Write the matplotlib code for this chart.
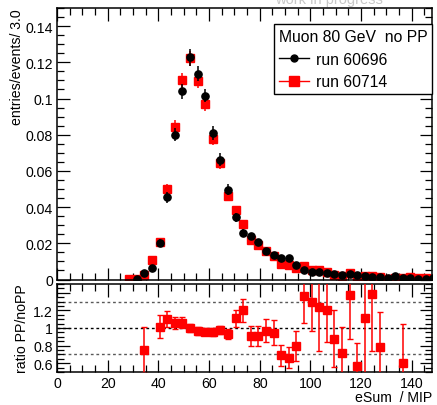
import numpy as np
import matplotlib
matplotlib.use("Agg")
import matplotlib.pyplot as plt
from matplotlib.lines import Line2D
from matplotlib.ticker import MultipleLocator, FixedLocator, FuncFormatter

plt.rcParams["font.family"] = ["Liberation Sans", "DejaVu Sans"]

# eSum bins (width 3 MIP), bin centres
BIN_CENTERS = [28.5, 31.5, 34.5, 37.5, 40.5, 43.5, 46.5, 49.5, 52.5, 55.5,
               58.5, 61.5, 64.5, 67.5, 70.5, 73.5, 76.5, 79.5, 82.5, 85.5,
               88.5, 91.5, 94.5, 97.5, 100.5, 103.5, 106.5, 109.5, 112.5, 115.5,
               118.5, 121.5, 124.5, 127.5, 130.5, 133.5, 136.5, 139.5, 142.5, 145.5,
               148.5]

# run 60696 (no PP), normalised entries per bin
RUN_NOPP = [np.nan, 0.0003, 0.0034, 0.0065, 0.0204, 0.0455, 0.0801, 0.1039, 0.1227, 0.1138,
            0.1015, 0.0810, 0.0661, 0.0497, 0.0344, 0.0255, 0.0239, 0.0206, 0.0159, 0.0137,
            0.0121, 0.0117, 0.0082, 0.0054, 0.0042, 0.0043, 0.0034, 0.0030, 0.0027, 0.0028,
            0.0023, 0.0019, 0.0014, 0.0015, 0.0010, 0.0017, 0.0010, 0.0008, 0.0004, 0.0003,
            0.0006]
RUN_NOPP_ERR = [0.0, 0.0003, 0.0009, 0.0014, 0.0022, 0.0030, 0.0038, 0.0040, 0.0045, 0.0040,
                0.0037, 0.0038, 0.0036, 0.0030, 0.0025, 0.0022, 0.0020, 0.0019, 0.0017, 0.0016,
                0.0015, 0.0015, 0.0012, 0.0010, 0.0009, 0.0009, 0.0008, 0.0008, 0.0007, 0.0007,
                0.0007, 0.0006, 0.0005, 0.0005, 0.0004, 0.0005, 0.0004, 0.0004, 0.0003, 0.0003,
                0.0004]

# run 60714 (PP)
RUN_PP = [0.0004, 0.0003, 0.0025, 0.0106, 0.0208, 0.0500, 0.0843, 0.1103, 0.1222, 0.1098,
          0.0969, 0.0777, 0.0646, 0.0463, 0.0382, 0.0305, 0.0218, 0.0188, 0.0155, 0.0130,
          0.0084, 0.0078, 0.0066, 0.0073, 0.0054, 0.0053, 0.0041, 0.0026, 0.0019, 0.0038,
          0.0013, 0.0021, 0.0019, 0.0012, 0.0004, 0.0006, 0.0006, 0.0014, 0.0009, 0.0006,
          0.0003]
RUN_PP_ERR = [0.0003, 0.0003, 0.0008, 0.0016, 0.0022, 0.0030, 0.0038, 0.0040, 0.0042, 0.0040,
              0.0037, 0.0035, 0.0033, 0.0028, 0.0025, 0.0022, 0.0019, 0.0018, 0.0016, 0.0015,
              0.0013, 0.0012, 0.0011, 0.0011, 0.0009, 0.0009, 0.0008, 0.0007, 0.0006, 0.0008,
              0.0005, 0.0006, 0.0006, 0.0005, 0.0003, 0.0004, 0.0004, 0.0005, 0.0004, 0.0003,
              0.0003]

# ratio PP / noPP (only bins inside the ratio range)
RATIO_X = [34.5, 40.5, 43.5, 46.5, 49.5, 52.5, 55.5, 58.5, 61.5, 64.5,
           67.5, 70.5, 73.5, 76.5, 79.5, 82.5, 85.5, 88.5, 91.5, 94.5,
           97.5, 100.5, 103.5, 106.5, 109.5, 112.5, 115.5, 118.5, 121.5, 124.5,
           127.5, 136.5]
RATIO = [0.75, 1.015, 1.10, 1.054, 1.06, 0.995, 0.966, 0.958, 0.958, 0.977,
         0.93, 1.11, 1.20, 0.91, 0.91, 0.97, 0.946, 0.69, 0.66, 0.80,
         1.36, 1.30, 1.24, 1.21, 0.88, 0.714, 1.37, 0.57, 1.118, 1.39,
         0.78, 0.60]
RATIO_ERR = [0.26, 0.13, 0.09, 0.07, 0.06, 0.045, 0.04, 0.04, 0.045, 0.05,
             0.055, 0.10, 0.13, 0.11, 0.11, 0.13, 0.14, 0.12, 0.12, 0.17,
             0.30, 0.33, 0.50, 0.37, 0.32, 0.30, 0.50, 0.26, 0.70, 0.65,
             0.40, 0.45]
REF_LINES = [1.3, 1.0, 0.7]

W, H = 437, 406
fig = plt.figure(figsize=(W / 100, H / 100), dpi=100)


def px_axes(x0, y0, x1, y1):
    return fig.add_axes([x0 / W, 1 - y1 / H, (x1 - x0) / W, (y1 - y0) / H])


ax = px_axes(57, 9, 432, 280.5)
axr = px_axes(57, 285, 432, 373)


def root_ticks(a):
    a.tick_params(which="both", direction="in", top=True, right=True,
                  width=0.9, labelsize=10.2, pad=3)
    a.tick_params(which="major", length=9)
    a.tick_params(which="minor", length=5)
    for s in a.spines.values():
        s.set_linewidth(1.1)


# main panel: PP underneath, noPP on top
ax.errorbar(BIN_CENTERS, RUN_PP, yerr=RUN_PP_ERR, fmt="s", color="#ff0000",
            ms=5.8, elinewidth=1.1, capsize=0, zorder=2)
ax.errorbar(BIN_CENTERS, RUN_NOPP, yerr=RUN_NOPP_ERR, fmt="o", color="black",
            ms=5.2, elinewidth=1.1, capsize=0, zorder=3)
ax.set_xlim(0, 148)
ax.set_ylim(0, 0.15)
ax.xaxis.set_major_locator(MultipleLocator(20))
ax.xaxis.set_minor_locator(MultipleLocator(5))
ax.yaxis.set_major_locator(MultipleLocator(0.02))
ax.yaxis.set_minor_locator(MultipleLocator(0.005))
ax.yaxis.set_major_formatter(FuncFormatter(lambda v, p: f"{v:g}"))
ax.set_xticklabels([])
root_ticks(ax)
ax.set_ylabel("entries/events/ 3.0", fontsize=10.2, loc="top", labelpad=1)

handles = [Line2D([], [], color="black", marker="o", ms=5, lw=1.0),
           Line2D([], [], color="#ff0000", marker="s", ms=6.5, lw=1.0)]
leg = ax.legend(handles, ["run 60696", "run 60714"], title="Muon 80 GeV  no PP",
                loc="upper left", mode="expand",
                bbox_to_anchor=(0.579, 0.6685, 0.4213, 0.2725),
                fontsize=11.3, title_fontsize=11.3, alignment="left",
                frameon=True, fancybox=False, edgecolor="black", framealpha=1,
                borderpad=0.3, labelspacing=0.5, handlelength=1.9,
                handletextpad=0.5, borderaxespad=0)
leg.get_frame().set_linewidth(1.0)
leg._legend_box.align = "left"

# ratio panel
for yv in REF_LINES:
    axr.axhline(yv, color="black" if yv == 1.0 else "0.35", lw=1.0,
                ls=(0, (2, 2)), zorder=1)
axr.errorbar(RATIO_X, RATIO, yerr=RATIO_ERR, fmt="s", color="#ff0000",
             ms=5.8, elinewidth=1.1, capsize=2, capthick=1.0, zorder=3)
axr.set_xlim(0, 148)
axr.set_ylim(0.5, 1.5)
axr.xaxis.set_major_locator(MultipleLocator(20))
axr.xaxis.set_minor_locator(MultipleLocator(5))
axr.yaxis.set_major_locator(FixedLocator([0.6, 0.8, 1.0, 1.2, 1.4]))
axr.yaxis.set_minor_locator(MultipleLocator(0.05))
axr.yaxis.set_major_formatter(FuncFormatter(lambda v, p: "" if v > 1.3 else f"{v:g}"))
root_ticks(axr)
axr.set_ylabel("ratio PP/noPP", fontsize=10.2, labelpad=3)
axr.set_xlabel("eSum  / MIP", fontsize=10.2, loc="right", labelpad=0)

fig.text(329 / W, 1 - 4 / H, "work in progress", color="#c8c8c8",
         fontsize=10.5, ha="center", va="baseline")

fig.savefig("out.png", dpi=100)
